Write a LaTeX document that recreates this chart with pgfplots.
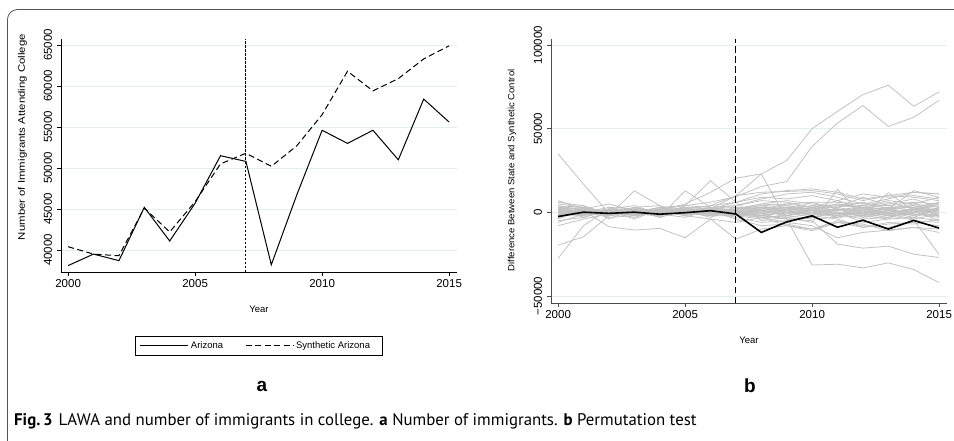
\documentclass[border=0pt]{standalone}
\usepackage{fontspec}
\setmainfont{Liberation Sans}
\newfontfamily\capfont{PT Sans}
\usepackage{graphicx}
\usepackage{pgfplots}
\pgfplotsset{compat=1.18}
\usepackage{pgfplotstable}
\definecolor{gridcol}{HTML}{E4EEEE}
\definecolor{graycol}{HTML}{C2C2C2}
\definecolor{framecol}{HTML}{555555}

\pgfplotstableread{
year az syn
2000 38100 40400
2001 39500 39500
2002 38700 39300
2003 45200 45100
2004 41100 42200
2005 45700 45900
2006 51500 50500
2007 50800 51800
2008 38200 50200
2009 46700 52700
2010 54600 56500
2011 53000 61800
2012 54600 59400
2013 51000 60900
2014 58400 63300
2015 55600 64900
}\tableA

\pgfplotstableread{
year g1 g2 g3 g4 g5 g6 g7 g8 g9 g10 g11 g12 g13 g14 g15 g16 g17 g18 g19 g20 g21 g22 g23 g24 g25 g26 g27 g28 g29 g30 g31 g32 g33 g34 g35 g36 az g37 g38 g39 g40 g41 g42 g43 g44
2000 3000 1000 2000 35000 -27500 -19600 1000 -2000 5000 -5000 2000 6000 -4000 3000 -3000 0 4000 -1000 2000 -2000 1000 -6000 3000 -1000 0 7000 -8000 2000 -3000 1000 -2000 4000 500 -1500 2500 -500 -2500 1000 -1000 0 1500 -500 500 -2000 2000
2001 2000 -1000 1000 16800 -8000 -14600 3000 1000 3000 -3000 0 4000 2000 -2000 1000 2000 1000 -2000 3000 0 -1000 -1000 4000 1000 -1000 2000 -4000 -3000 2000 0 -1000 1000 1500 0 -500 -1500 100 -500 500 1000 -1000 500 -500 1000 0
2002 1000 2000 -2000 -600 2000 -2000 -2000 -8600 0 2000 -1000 -4000 5000 1000 -2000 1000 -3000 2000 0 3000 -2000 1000 -1000 0 2000 -2000 -1000 1000 0 -1000 1000 0 -500 1000 0 500 -600 500 -1000 0 -1500 1500 -500 500 -500
2003 2000 0 3000 1000 -2000 1000 12900 -10600 2000 -1000 3000 2000 1000 -4000 3000 -1000 -2000 4000 -1000 2000 1000 -2000 2000 -3000 1000 -1000 2000 0 1000 2000 -1000 -2000 0 -500 1000 0 100 -1000 500 500 0 -1500 1500 500 -500
2004 1000 3000 0 2000 1000 -3000 4000 -9600 -1000 3000 -2000 -3000 2000 2000 4000 3000 0 -1000 -2000 1000 2000 0 -3000 1000 -1000 1000 0 2000 -2000 1000 0 1000 -1000 1000 -1500 500 -1100 0 -500 1500 0 500 -1000 1000 -500
2005 5000 4000 2000 -1000 0 2000 -1000 -15200 3000 1000 1000 12900 4000 1000 -2000 2000 3000 -3000 4000 -2000 0 1000 1000 2000 -1000 0 2000 -1000 3000 -2000 1000 2000 500 -1000 500 -500 -200 1500 0 -500 1000 -1000 0 -500 1000
2006 12000 6000 4000 0 -1000 1000 2000 -4000 2000 -2000 3000 3000 18900 -3000 1000 -1000 2000 2000 3000 -4000 1000 2000 -2000 0 1000 -2000 4000 3000 -1000 2000 0 -1000 1000 500 -1000 -1500 1000 500 -500 1000 -500 0 1500 -2000 0
2007 20400 9400 10000 2000 1000 -2000 10000 -16000 0 1000 -1000 4000 6000 2000 -4000 3000 6000 1000 -1000 -6000 2000 4000 0 -3000 1000 -2000 6000 1000 -2000 3000 -1000 0 0 2000 -500 500 -1000 1000 -1500 500 -500 1500 -1000 500 0
2008 23000 15400 22900 5000 -3000 2000 12000 -10000 -2000 3000 -3000 8000 -5000 5000 -8000 0 11000 -1000 2000 -3000 4000 7000 -2000 -6000 3000 1000 9000 0 -4000 2000 -2000 1000 -1000 3000 1000 -2000 -12000 2000 -3000 1000 -1000 4000 -2000 0 2000
2009 31000 18400 -4000 4000 -2000 3000 12500 -8000 -4000 2000 -6000 11000 -3000 7000 -7000 2000 13000 -4000 5000 -8000 1000 6000 1000 -5000 0 -2000 8000 3000 -1000 4000 -3000 2000 1000 1000 -2000 0 -5700 3000 -2000 -1000 2000 5000 0 1000 1000
2010 50000 39400 -31500 2000 1000 1000 13000 -10000 -5000 0 -8000 12000 -6000 5000 -10000 4000 14000 -3000 3000 -11000 -2000 3000 6000 -2000 -1000 3000 10000 1000 2000 1000 -1000 4000 2000 -1000 0 1000 -2100 2000 -4000 0 1000 6000 -3000 3000 -2000
2011 60400 53400 -31000 5000 -1000 2000 11000 -6000 -19000 -3000 -15200 9000 13700 3000 -5000 1000 12000 0 7000 -6000 3000 5000 2000 -4000 2000 -3000 7000 -2000 -1000 4000 -2000 3000 0 1000 -1000 -2000 -8900 4000 -3000 2000 -1000 6000 0 1000 2000
2012 70400 63800 -33200 3000 0 -1000 7000 -9000 -21400 1000 -12000 5000 -2000 6000 -8000 3000 8000 -6000 2000 -7000 9000 4000 -3000 -9000 1000 0 11000 2000 -4000 3000 1000 0 -1000 2000 -2000 1000 -4700 3000 -2000 -2000 3000 5000 -1000 4000 -3000
2013 76000 51400 -30200 1000 2000 3000 10000 -7000 -20200 -2000 -10600 8000 11700 2000 -9000 -1000 10000 -4000 5000 -11000 4000 7000 1000 -6000 3000 -2000 9000 0 -3000 6000 -2000 2000 1000 -1000 1000 -1000 -10000 2000 -4000 0 2000 4000 -3000 3000 -1000
2014 63400 56800 -34200 4000 -2000 1000 12000 -6000 -25000 -4600 -9000 12000 1000 13000 -5000 2000 9000 3000 8000 -9000 6000 5000 -2000 -7000 4000 1000 10000 -3000 1000 2000 -1000 3000 0 1000 -1000 2000 -4800 5000 -3000 2000 -1000 6000 0 3000 -4000
2015 72000 67000 -42000 2000 1000 2000 11000 -8000 -27000 -25200 -12000 11000 6000 9000 -6000 4000 7000 -2000 3000 -10000 -3000 9000 3000 -4000 1000 -1000 8000 2000 -5000 5000 -3000 1000 2000 0 -2000 0 -9400 3000 -5000 1000 -2000 5000 -2000 6000 -1000
}\tableB

\pgfplotsset{
  common/.style={
    scale only axis,
    axis x line*=bottom,
    axis y line*=left,
    tick align=outside,
    major tick length=4pt,
    scaled ticks=false,
    ymajorgrids,
    grid style={color=gridcol, line width=0.7pt},
    xtick={2000,2005,2010,2015},
    xticklabels={2000,2005,2010,2015},
    ticklabel style={font=\fontsize{11.5}{12}\selectfont},
    yticklabel style={rotate=90, anchor=south},
    xmin=1999.72, xmax=2015.31,
    clip=true,
  },
}

\begin{document}
\begin{tikzpicture}
\path[use as bounding box] (0pt,0pt) rectangle (954pt,-441pt);
\draw[framecol, line width=0.8pt, rounded corners=10pt] (7.5pt,-480pt) -- (7.5pt,-9.5pt) -- (1000pt,-9.5pt);

% Panel a
\begin{axis}[
  common,
  at={(61pt,-272pt)}, anchor=south west,
  width=396pt, height=233pt,
  ymin=37317, ymax=65730,
  ytick={40000,45000,50000,55000,60000,65000},
  yticklabels={40000,45000,50000,55000,60000,65000},
  yticklabel shift=1.5pt,
  axis line style={black, line width=0.7pt},
  tick style={black, line width=0.7pt},
  xlabel={Year},
  xlabel style={font=\fontsize{9.5}{11}\selectfont, at={(axis description cs:0.5,-0.1588)}, anchor=center},
  ylabel={\scalebox{1.2}[1]{Number of Immigrants Attending College}},
  ylabel style={font=\fontsize{9.5}{11}\selectfont, at={(axis description cs:-0.0972,0.579)}, anchor=center},
  legend columns=2,
  legend style={at={(0.4987,-0.3155)}, anchor=center, draw=black, fill=white,
    font=\fontsize{9.5}{11}\selectfont, inner xsep=5pt, inner ysep=3pt},
  legend image code/.code={\draw[#1] (0pt,0pt) -- (43pt,0pt); \path (0pt,0pt) -- (48pt,0pt);},
]
\addplot[black, line width=1pt] table[x=year, y=az] {\tableA};
\addlegendentry{Arizona\hbox to 20pt{}}
\addplot[black, line width=1pt, dash pattern=on 6pt off 3.5pt] table[x=year, y=syn] {\tableA};
\addlegendentry{Synthetic Arizona\hbox to 5pt{}}
\draw[black, line width=0.9pt, dash pattern=on 2.5pt off 1.5pt] (axis cs:2007,37317) -- (axis cs:2007,65730);
\end{axis}

% Panel b
\begin{axis}[
  common,
  at={(551pt,-303pt)}, anchor=south west,
  width=396pt, height=264pt,
  ymin=-54180, ymax=103600,
  ytick={-50000,0,50000,100000},
  yticklabels={−50000,0,50000,100000},
  yticklabel shift=1.5pt,
  axis line style={black!70, line width=1pt},
  tick style={black!70, line width=0.8pt},
  xlabel={Year},
  xlabel style={font=\fontsize{9.5}{11}\selectfont, at={(axis description cs:0.5,-0.140)}, anchor=center},
  ylabel={\scalebox{1.06}[1]{Difference Between State and Synthetic Control}},
  ylabel style={font=\fontsize{9}{11}\selectfont, at={(axis description cs:-0.0985,0.502)}, anchor=center},
]
\pgfplotsinvokeforeach{1,...,44}{
  \addplot[graycol, line width=0.8pt] table[x=year, y=g#1] {\tableB};
}
\addplot[black, line width=1.6pt] table[x=year, y=az] {\tableB};
\draw[black, line width=1.1pt, dash pattern=on 6.5pt off 3.5pt] (axis cs:2007,-54180) -- (axis cs:2007,103600);
\end{axis}

\node[font=\bfseries\fontsize{19}{20}\selectfont] at (262pt,-386pt) {a};
\node[font=\bfseries\fontsize{19}{20}\selectfont] at (750pt,-386pt) {b};
\node[anchor=base west, inner sep=0pt, font=\capfont\fontsize{16.8}{18}\selectfont] at (14pt,-425pt)
  {\textbf{Fig.\,3}\hspace{6pt}LAWA and number of immigrants in college. \textbf{a} Number of immigrants. \textbf{b} Permutation test};
\end{tikzpicture}
\end{document}
